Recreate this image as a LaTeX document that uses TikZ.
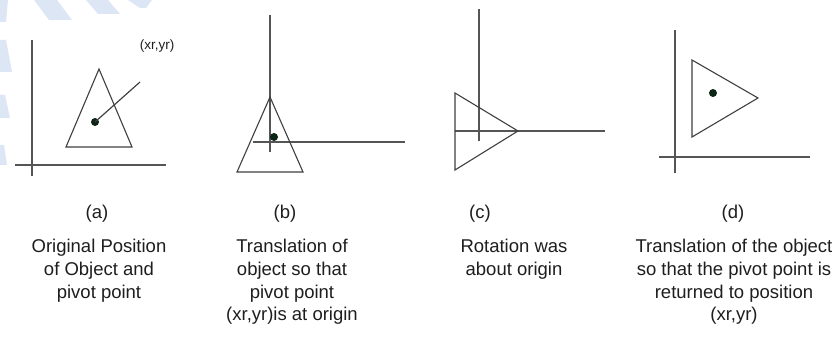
\documentclass[tikz,border=0pt]{standalone}
\usepackage{fontspec}
\setmainfont{Liberation Sans}
\definecolor{axis}{HTML}{555555}
\definecolor{tri}{HTML}{404040}
\definecolor{wm}{HTML}{DCE6F5}
\definecolor{dotc}{HTML}{0E2414}
\definecolor{txt}{HTML}{1E1E1E}
\tikzset{
  axisline/.style={draw=axis, line width=1.3pt},
  triline/.style={draw=tri, line width=1.1pt, line join=miter},
  pivot/.style={circle, fill=dotc, inner sep=0pt, minimum size=8pt},
  lbl/.style={font=\fontsize{18.5}{22.7}\selectfont, text=txt, align=center, inner sep=0pt, anchor=north},
  wmark/.style={fill=wm, draw=none}
}
\begin{document}
\begin{tikzpicture}[x=1pt,y=-1pt]
\useasboundingbox (0,0) rectangle (840,347);
\fill[white] (0,0) rectangle (840,347);
% faint watermark stripes
\fill[wmark] (0,0) -- (8,0) -- (6,22) -- (0,22) -- cycle;
\fill[wmark] (34,0) -- (57,0) -- (72,20) -- (49,20) -- cycle;
\fill[wmark] (86,0) -- (108,0) -- (120,14) -- (98,14) -- cycle;
\fill[wmark] (128,0) -- (152,0) -- (146,8) -- (140,8) -- cycle;
\fill[wmark] (0,40) -- (6,40) -- (12,72) -- (0,72) -- cycle;
\fill[wmark] (0,95) -- (5,95) -- (10,118) -- (0,118) -- cycle;
\fill[wmark] (0,145) -- (4,145) -- (7,165) -- (0,165) -- cycle;

% ---------- (a) ----------
\coordinate (a-yt) at (32,40);
\coordinate (a-yb) at (32,176);
\coordinate (a-xl) at (15,165);
\coordinate (a-xr) at (166,165);
\draw[axisline] (a-yt) -- (a-yb);
\draw[axisline] (a-xl) -- (a-xr);
\coordinate (a-t) at (99,69);
\coordinate (a-l) at (66,147);
\coordinate (a-r) at (132,147);
\draw[triline] (a-t) -- (a-l) -- (a-r) -- cycle;
\node[pivot] (a-p) at (95,122) {};
\node[font=\fontsize{13.5}{15}\selectfont, text=txt, inner sep=1pt] (a-lab) at (157,46) {(xr,yr)};
\coordinate (a-lead) at (140,82);
\draw[tri, line width=1.2pt] (a-lead) -- (a-p.center);

% ---------- (b) ----------
\coordinate (b-yt) at (270,15);
\coordinate (b-yb) at (270,152);
\coordinate (b-xl) at (253,142);
\coordinate (b-xr) at (405,142);
\draw[axisline] (b-yt) -- (b-yb);
\draw[axisline] (b-xl) -- (b-xr);
\coordinate (b-t) at (270,97);
\coordinate (b-l) at (237,172);
\coordinate (b-r) at (303,172);
\draw[triline] (b-t) -- (b-l) -- (b-r) -- cycle;
\node[pivot] (b-p) at (274,137) {};

% ---------- (c) ----------
\coordinate (c-yt) at (479,9);
\coordinate (c-yb) at (479,141);
\coordinate (c-xl) at (455,131);
\coordinate (c-xr) at (605,131);
\draw[axisline] (c-yt) -- (c-yb);
\draw[axisline] (c-xl) -- (c-xr);
\coordinate (c-t) at (455,93);
\coordinate (c-b) at (455,170);
\coordinate (c-r) at (518,131);
\draw[triline] (c-t) -- (c-b) -- (c-r) -- cycle;

% ---------- (d) ----------
\coordinate (d-yt) at (675,30);
\coordinate (d-yb) at (675,173);
\coordinate (d-xl) at (659,157);
\coordinate (d-xr) at (810,157);
\draw[axisline] (d-yt) -- (d-yb);
\draw[axisline] (d-xl) -- (d-xr);
\coordinate (d-t) at (692,60);
\coordinate (d-b) at (692,137);
\coordinate (d-r) at (758,98);
\draw[triline] (d-t) -- (d-b) -- (d-r) -- cycle;
\node[pivot] (d-p) at (713,93) {};

% ---------- captions ----------
\node[lbl] (cap-a) at (97,205) {(a)};
\node[lbl] (txt-a) at (99,239) {Original Position\\of Object and\\pivot point};
\node[lbl] (cap-b) at (285,205) {(b)};
\node[lbl] (txt-b) at (292,239) {Translation of\\object so that\\pivot point\\(xr,yr)is at origin};
\node[lbl] (cap-c) at (480,205) {(c)};
\node[lbl] (txt-c) at (514,239) {Rotation was\\about origin};
\node[lbl] (cap-d) at (733,205) {(d)};
\node[lbl] (txt-d) at (734,239) {Translation of the object\\so that the pivot point is\\returned to position\\(xr,yr)};
\end{tikzpicture}
\end{document}
